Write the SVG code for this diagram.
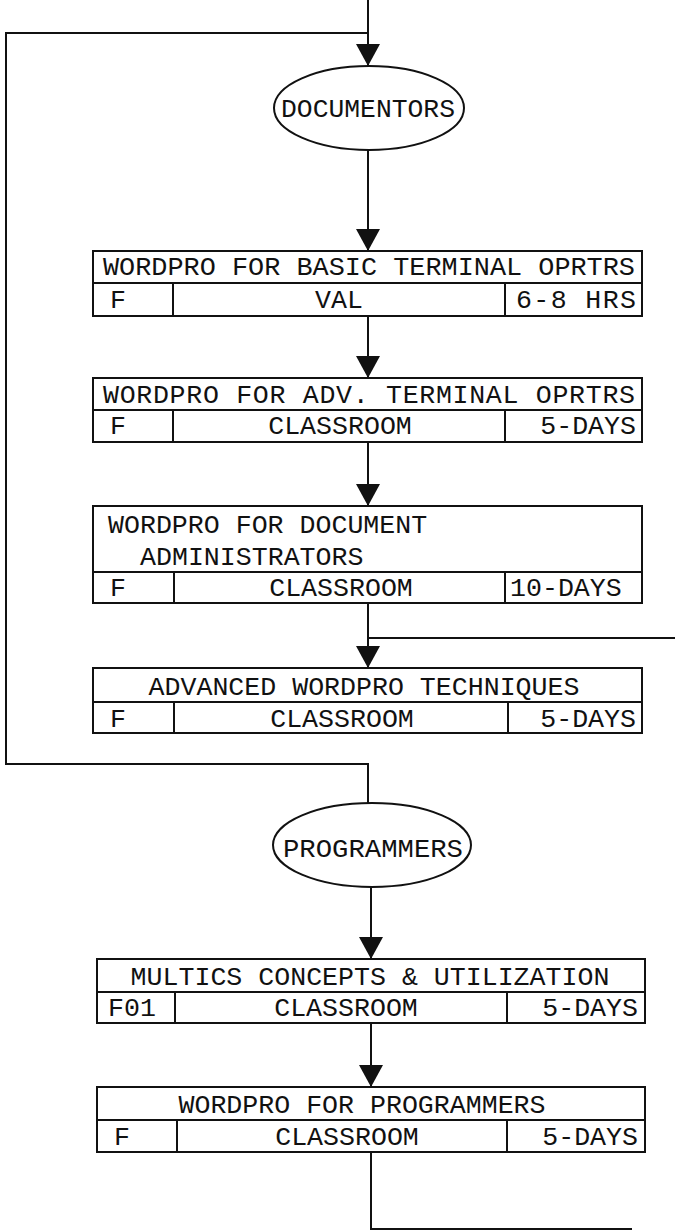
<svg xmlns="http://www.w3.org/2000/svg" width="675" height="1232" viewBox="0 0 675 1232">
<style>
  .bx { fill: none; stroke: #111; stroke-width: 2; }
  .ln { fill: none; stroke: #111; stroke-width: 2; }
  .el { fill: #fff; stroke: #111; stroke-width: 2; }
  .t { font-family: "Liberation Mono", "DejaVu Sans Mono", monospace; font-size: 26.6px; fill: #111; }
  .m { text-anchor: middle; }
  .e { text-anchor: end; }
</style>
<defs>
  <marker id="ah" markerUnits="userSpaceOnUse" markerWidth="26" markerHeight="24" viewBox="0 0 26 24" refX="22" refY="12" orient="auto">
    <path d="M0,0 L22,12 L0,24 Z" fill="#111"/>
  </marker>
</defs>
<rect width="675" height="1232" fill="#fff"/>

<g id="connectors">
  <path class="ln" d="M368,0 V66" marker-end="url(#ah)"/>
  <path class="ln" d="M368,803 V764 H6 V33 H368"/>
  <path class="ln" d="M368,150 V251" marker-end="url(#ah)"/>
  <path class="ln" d="M368,316 V378" marker-end="url(#ah)"/>
  <path class="ln" d="M368,442 V506" marker-end="url(#ah)"/>
  <path class="ln" d="M368,603 V668" marker-end="url(#ah)"/>
  <path class="ln" d="M368,638 H675"/>
  <path class="ln" d="M371,887 V959" marker-end="url(#ah)"/>
  <path class="ln" d="M371,1023 V1087" marker-end="url(#ah)"/>
  <path class="ln" d="M371,1152 V1229 H632"/>
</g>

<g id="documentors">
  <ellipse class="el" cx="369" cy="108" rx="95" ry="42"/>
  <text class="t m" x="368" y="117" textLength="174" lengthAdjust="spacingAndGlyphs">DOCUMENTORS</text>
</g>

<g id="box1">
  <rect class="bx" x="93" y="251" width="549" height="65"/>
  <path class="bx" d="M93,283 H642 M173,283 V316 M505,283 V316"/>
  <text class="t" x="103" y="275" textLength="532" lengthAdjust="spacingAndGlyphs">WORDPRO FOR BASIC TERMINAL OPRTRS</text>
  <text class="t" x="110" y="308">F</text>
  <text class="t m" x="339" y="308">VAL</text>
  <text class="t e" x="636" y="308" textLength="120" lengthAdjust="spacing">6-8 HRS</text>
</g>

<g id="box2">
  <rect class="bx" x="93" y="378" width="549" height="64"/>
  <path class="bx" d="M93,410 H642 M173,410 V442 M505,410 V442"/>
  <text class="t" x="103" y="403" textLength="532" lengthAdjust="spacing">WORDPRO FOR ADV. TERMINAL OPRTRS</text>
  <text class="t" x="110" y="434">F</text>
  <text class="t m" x="340" y="434">CLASSROOM</text>
  <text class="t e" x="636" y="434">5-DAYS</text>
</g>

<g id="box3">
  <rect class="bx" x="93" y="506" width="549" height="97"/>
  <path class="bx" d="M93,572 H642 M174,572 V603 M505,572 V603"/>
  <text class="t" x="108" y="533">WORDPRO FOR DOCUMENT</text>
  <text class="t" x="140" y="565">ADMINISTRATORS</text>
  <text class="t" x="110" y="596">F</text>
  <text class="t m" x="341" y="596">CLASSROOM</text>
  <text class="t" x="510" y="596">10-DAYS</text>
</g>

<g id="box4">
  <rect class="bx" x="93" y="668" width="549" height="65"/>
  <path class="bx" d="M93,702 H642 M174,702 V733 M508,702 V733"/>
  <text class="t m" x="364" y="695">ADVANCED WORDPRO TECHNIQUES</text>
  <text class="t" x="110" y="727">F</text>
  <text class="t m" x="342" y="727">CLASSROOM</text>
  <text class="t e" x="636" y="727">5-DAYS</text>
</g>

<g id="programmers">
  <ellipse class="el" cx="372" cy="845" rx="99" ry="42"/>
  <text class="t m" x="373" y="857" textLength="180" lengthAdjust="spacingAndGlyphs">PROGRAMMERS</text>
</g>

<g id="box5">
  <rect class="bx" x="97" y="959" width="548" height="64"/>
  <path class="bx" d="M97,992 H645 M175,992 V1023 M507,992 V1023"/>
  <text class="t m" x="370" y="985">MULTICS CONCEPTS &amp; UTILIZATION</text>
  <text class="t" x="108" y="1016">F01</text>
  <text class="t m" x="346" y="1016">CLASSROOM</text>
  <text class="t e" x="638" y="1016">5-DAYS</text>
</g>

<g id="box6">
  <rect class="bx" x="97" y="1087" width="548" height="65"/>
  <path class="bx" d="M97,1120 H645 M177,1120 V1152 M507,1120 V1152"/>
  <text class="t m" x="362" y="1113">WORDPRO FOR PROGRAMMERS</text>
  <text class="t" x="114" y="1145">F</text>
  <text class="t m" x="347" y="1145">CLASSROOM</text>
  <text class="t e" x="638" y="1145">5-DAYS</text>
</g>
</svg>
